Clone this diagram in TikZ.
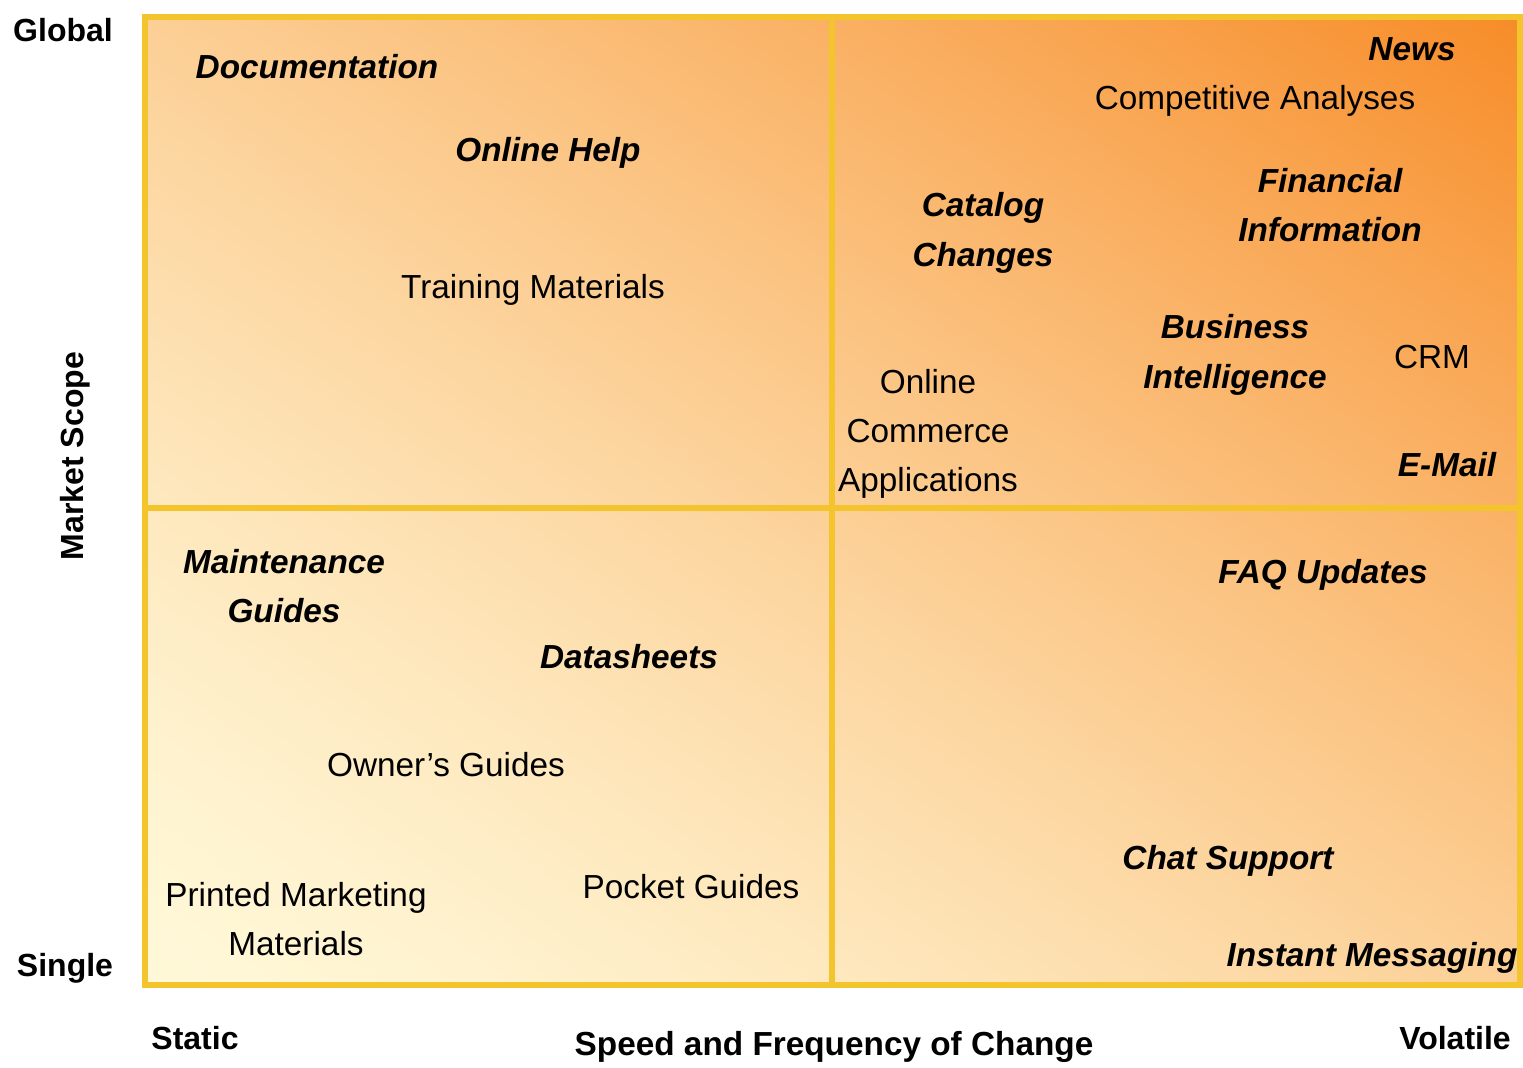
\documentclass[tikz,border=0pt]{standalone}
\usepackage{fontspec}
\setmainfont{Liberation Sans}
\definecolor{gold}{RGB}{244,196,44}
% diagonal fill, cream at lower left to orange at upper right
\pgfdeclarefunctionalshading{quadfill}{\pgfpointorigin}{\pgfpoint{100bp}{100bp}}{}{
  add 50 sub 100 div
  dup 0 lt {pop 0} if
  dup 1 gt {pop 1} if
  1.4 exp
  dup dup
  -0.690 mul 0.847 add
  3 1 roll
  -0.424 mul 0.973 add
  exch
  -0.031 mul 1.0 add
  3 1 roll
  exch
}
\tikzset{
  every picture/.style={line width=0.75pt},
  itemb/.style={font=\fontsize{25}{37}\selectfont\bfseries\itshape, align=center, inner sep=0.75pt},
  itemr/.style={font=\fontsize{25}{37}\selectfont, align=center, inner sep=0.75pt},
  axislbl/.style={font=\fontsize{24}{30}\selectfont\bfseries, inner sep=0.75pt},
  frameline/.style={draw=gold, line width=3.8pt}
}
\begin{document}
\begin{tikzpicture}[x=0.75pt,y=0.75pt,yscale=-1,xscale=1]
\useasboundingbox (0,0) rectangle (1523,1067);

%Shape: shaded field
\shade[shading=quadfill] (145,17) rectangle (1520,985);
%Straight Lines: quadrant dividers
\draw [frameline] (832,17) -- (832,985) ;
\draw [frameline] (145,508) -- (1520,508) ;
%Shape: Rectangle
\draw [frameline] (145,17) rectangle (1520,985) ;

% Axis labels
\node [axislbl] (glob) at (63,30) {Global};
\node [axislbl] (sing) at (65,968) {Single};
\node [axislbl, rotate=90] (scope) at (75,456) {Market Scope};
\node [axislbl] (stat) at (195,1038) {Static};
\node [axislbl, font=\fontsize{25}{30}\selectfont\bfseries] (speed) at (834,1047) {Speed and Frequency of Change};
\node [axislbl] (vol) at (1455,1038) {Volatile};

% Upper left
\node [itemb] (doc) at (317,67) {Documentation};
\node [itemb] (help) at (548,153) {Online Help};
\node [itemr] (train) at (533,290) {Training Materials};

% Upper right
\node [itemb] (news) at (1412,49) {News};
\node [itemr] (comp) at (1255,101) {Competitive Analyses};
\node [itemb] (fin) at (1330,205) {Financial\\Information};
\node [itemb] (cat) at (983,233) {Catalog\\Changes};
\node [itemb] (bi) at (1235,355) {Business\\Intelligence};
\node [itemr] (crm) at (1432,357) {CRM};
\node [itemr] (comm) at (928,434) {Online\\Commerce\\Applications};
\node [itemb] (mail) at (1447,465) {E-Mail};

% Lower left
\node [itemb] (maint) at (284,586) {Maintenance\\Guides};
\node [itemb] (data) at (629,657) {Datasheets};
\node [itemr] (owner) at (446,765) {Owner's Guides};
\node [itemr] (print) at (296,919) {Printed Marketing\\Materials};
\node [itemr] (pocket) at (691,887) {Pocket Guides};

% Lower right
\node [itemb] (faq) at (1323,575) {FAQ Updates};
\node [itemb] (chat) at (1228,861) {Chat Support};
\node [itemb] (im) at (1372,958) {Instant Messaging};

\end{tikzpicture}
\end{document}
